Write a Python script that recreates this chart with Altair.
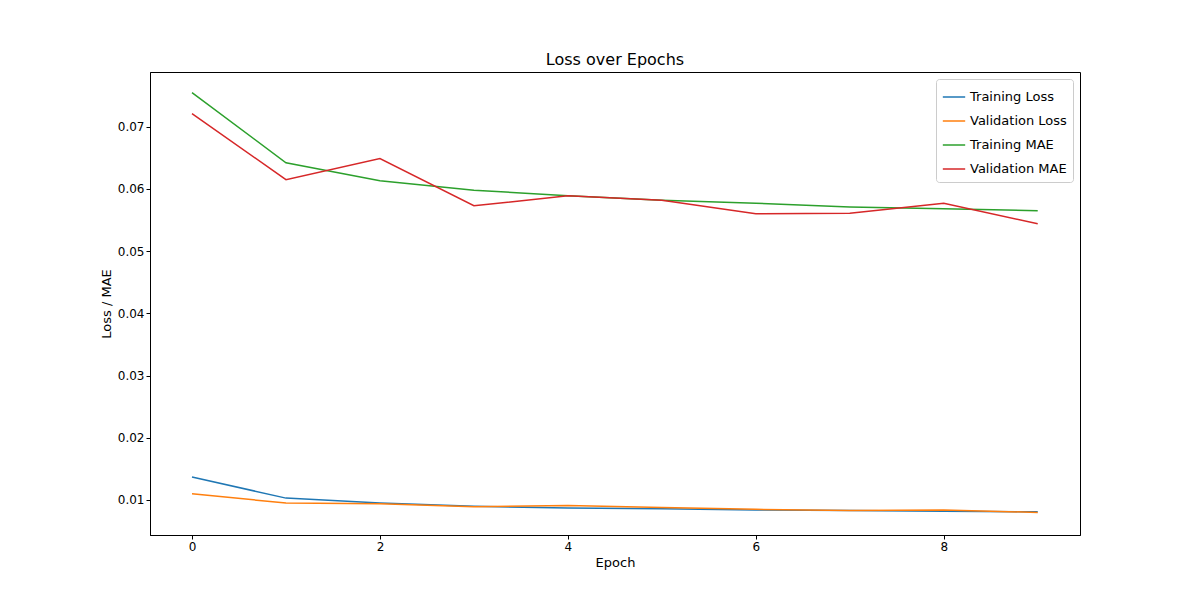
import pandas as pd
import altair as alt

epochs = list(range(10))
train_loss = [0.0137, 0.0103, 0.0095, 0.0090, 0.0087, 0.0086, 0.0084, 0.0083, 0.0082, 0.0081]
val_loss = [0.0110, 0.0095, 0.0094, 0.0089, 0.0091, 0.0088, 0.0085, 0.0083, 0.0084, 0.0080]
train_mae = [0.0755, 0.0642, 0.0613, 0.0598, 0.0589, 0.0582, 0.0577, 0.0571, 0.0568, 0.0565]
val_mae = [0.0721, 0.0615, 0.0649, 0.0573, 0.0589, 0.0582, 0.0560, 0.0561, 0.0577, 0.0544]

series = ["Training Loss", "Validation Loss", "Training MAE", "Validation MAE"]
colors = ["#1f77b4", "#ff7f0e", "#2ca02c", "#d62728"]

rows = []
for name, vals in zip(series, [train_loss, val_loss, train_mae, val_mae]):
    for e, v in zip(epochs, vals):
        rows.append({"Epoch": e, "Value": v, "Series": name})
df = pd.DataFrame(rows)

chart = alt.Chart(df).mark_line(strokeWidth=1.5).encode(
    x=alt.X("Epoch:Q", title="Epoch",
            scale=alt.Scale(domain=[-0.447, 9.45], nice=False, zero=False),
            axis=alt.Axis(values=[0, 2, 4, 6, 8], grid=False, format="d")),
    y=alt.Y("Value:Q", title="Loss / MAE",
            scale=alt.Scale(domain=[0.00437, 0.0788], nice=False, zero=False),
            axis=alt.Axis(values=[0.01, 0.02, 0.03, 0.04, 0.05, 0.06, 0.07], grid=False, format=".2f")),
    color=alt.Color("Series:N", sort=series,
                    scale=alt.Scale(domain=series, range=colors),
                    legend=alt.Legend(title=None, orient="top-right", offset=7,
                                      symbolType="stroke", symbolSize=500, symbolStrokeWidth=1.5,
                                      labelFontSize=13, strokeColor="#cccccc", fillColor="white",
                                      padding=6, cornerRadius=3, labelFont="DejaVu Sans",
                                      rowPadding=5)),
    detail="Series:N",
).properties(
    width=930, height=463,
    title=alt.Title("Loss over Epochs", fontSize=16, fontWeight="normal", font="DejaVu Sans"),
    autosize=alt.AutoSizeParams(type="none"),
    padding={"left": 142, "top": 64, "right": 100, "bottom": 60},
).configure_view(stroke="black", strokeWidth=1).configure_axis(
    labelFont="DejaVu Sans", titleFont="DejaVu Sans", labelFontSize=12, titleFontSize=13,
    titleFontWeight="normal", domainColor="black", tickColor="black", labelColor="black",
    titleColor="black", tickSize=4
)

chart.save("out.html", embed_options={"renderer": "svg", "actions": False})
